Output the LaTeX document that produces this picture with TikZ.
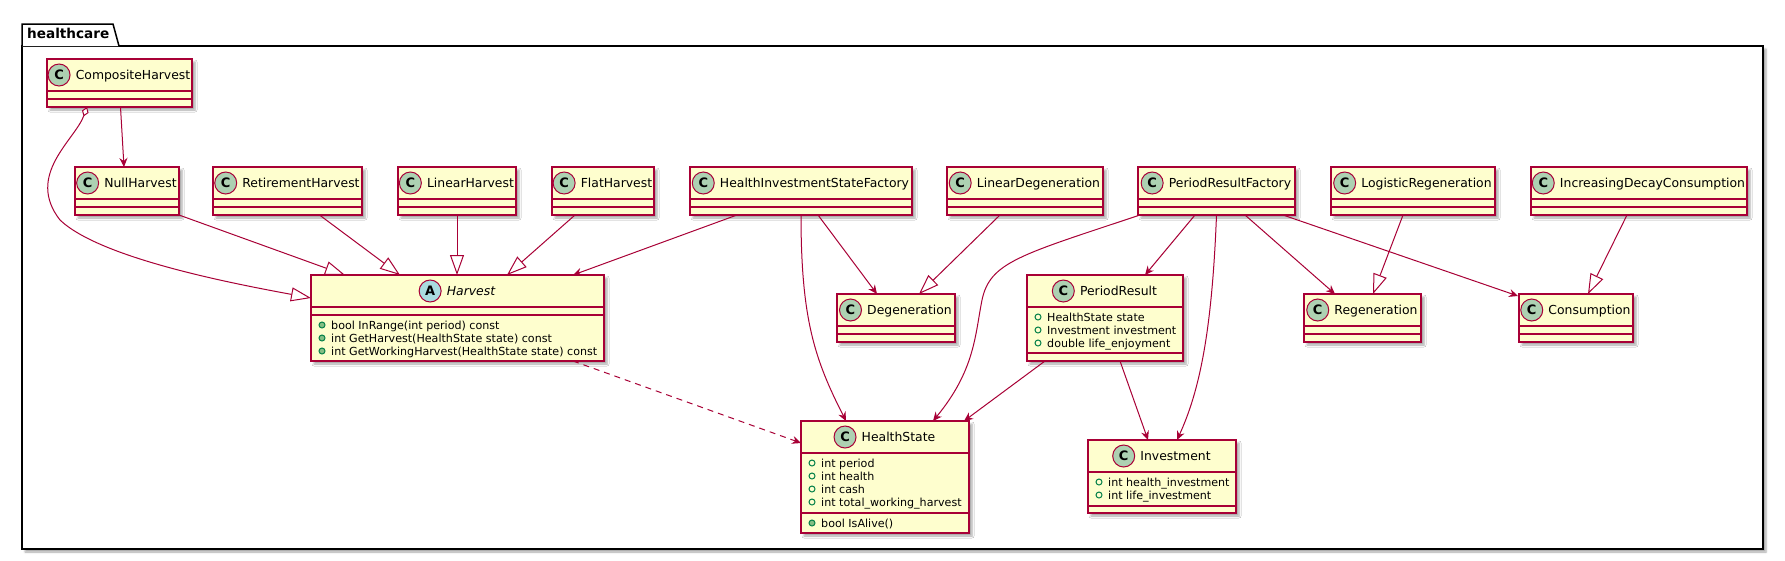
\documentclass[tikz,border=0pt]{standalone}
\usepackage{fontspec}
\setmainfont{DejaVu Sans}
\usetikzlibrary{arrows.meta,positioning,calc,shadows.blur}
\definecolor{UmlRed}{HTML}{A80036}
\definecolor{UmlFill}{HTML}{FEFECE}
\definecolor{IconC}{HTML}{ADD1B2}
\definecolor{IconA}{HTML}{A9DCDF}
\definecolor{FldGreen}{HTML}{038048}
\definecolor{MthGreen}{HTML}{84BE84}
\tikzset{
  pkgbox/.style={draw=black,line width=1.5pt,fill=white,anchor=north west,outer sep=0pt,
                 blur shadow={shadow xshift=3pt,shadow yshift=-3pt,shadow blur radius=2pt,shadow opacity=35}},
  clsbox/.style={draw=UmlRed,fill=UmlFill,line width=1.5pt,anchor=north west,
                 outer sep=0pt,inner sep=0pt,
                 blur shadow={shadow xshift=3pt,shadow yshift=-3pt,shadow blur radius=2pt,shadow opacity=35}},
  sep/.style={UmlRed,line width=1.5pt},
  clsname/.style={inner sep=0pt,text height=9pt,text depth=0pt,font=\fontsize{12.4}{14}\selectfont},
  icon/.style={circle,draw=UmlRed,line width=1pt,minimum size=22pt,inner sep=0pt,
               font=\fontsize{13}{13}\selectfont\bfseries},
  member/.style={anchor=west,inner sep=0pt,text height=8pt,text depth=0pt,
                 font=\fontsize{11.1}{13}\selectfont},
  fld/.style={circle,draw=FldGreen,line width=1pt,minimum size=6pt,inner sep=0pt},
  mth/.style={fld,fill=MthGreen},
  dep/.style={-{Stealth[length=9pt,width=8pt,inset=3pt]},UmlRed,line width=1pt},
  ext/.style={-{Triangle[fill=white,length=20pt,width=14pt]},UmlRed,line width=1pt},
  agg/.style={{Diamond[fill=white,length=10pt,width=7pt]}-{Triangle[fill=white,length=20pt,width=14pt]},
              UmlRed,line width=1pt},
  real/.style={dep,dash pattern=on 6pt off 5pt},
}

\begin{document}
\begin{tikzpicture}[x=1pt,y=-1pt]
  \useasboundingbox (0,0) rectangle (1785,560);
  % package frame
  \node[pkgbox,minimum width=1741,minimum height=503] (pkg) at (22,46) {};
  \draw[black,line width=1.5pt,fill=white] (pkg.north west) -- ++(0,-22) -- ++(91,0)
    -- ($(pkg.north west)+(97,0)$);
  \node[anchor=base west,inner sep=0pt,font=\fontsize{13.6}{15}\selectfont\bfseries] (pkgname)
    at (27,38) {healthcare};

  % classes without members
  \foreach \id/\x/\y/\w in {comp/47/59/145, nullh/75/167/104, retire/213/167/149,
      linh/398/167/118, flat/552/167/102, hisf/690/167/222, lindeg/947/167/156,
      prf/1138/167/157, logreg/1331/167/164, idc/1531/167/216,
      degen/837/294/118, regen/1304/294/117, cons/1519/294/114}{
    \node[clsbox,minimum width=\w,minimum height=48] (\id) at (\x,\y) {};
    \draw[sep] ($(\id.north west)+(0,40)$) -- ($(\id.north east)+(0,40)$);
  }

  % classes with members
  \node[clsbox,minimum width=293,minimum height=86] (harvest) at (311,275) {};
  \draw[sep] ($(harvest.north west)+(0,40)$) -- ($(harvest.north east)+(0,40)$);
  \foreach \t [count=\i] in {bool InRange(int period) const,
      int GetHarvest(HealthState state) const,
      int GetWorkingHarvest(HealthState state) const}{
    \node[mth] at ($(harvest.north west)+(11,{37+13*\i})$) {};
    \node[member] at ($(harvest.north west)+(20,{37+13*\i})$) {\t};
  }

  \node[clsbox,minimum width=156,minimum height=86] (presult) at (1027,275) {};
  \draw[sep] ($(presult.north west)+(0,78)$) -- ($(presult.north east)+(0,78)$);
  \foreach \t [count=\i] in {HealthState state, Investment investment, double life\_enjoyment}{
    \node[fld] at ($(presult.north west)+(11,{29+13*\i})$) {};
    \node[member] at ($(presult.north west)+(20,{29+13*\i})$) {\t};
  }

  \node[clsbox,minimum width=168,minimum height=112] (hstate) at (801,421) {};
  \draw[sep] ($(hstate.north west)+(0,92)$) -- ($(hstate.north east)+(0,92)$);
  \foreach \t [count=\i] in {int period, int health, int cash, int total\_working\_harvest}{
    \node[fld] at ($(hstate.north west)+(11,{29+13*\i})$) {};
    \node[member] at ($(hstate.north west)+(20,{29+13*\i})$) {\t};
  }
  \node[mth] at ($(hstate.north west)+(11,102)$) {};
  \node[member] at ($(hstate.north west)+(20,102)$) {bool IsAlive()};

  \node[clsbox,minimum width=148,minimum height=73] (invest) at (1088,440) {};
  \draw[sep] ($(invest.north west)+(0,66)$) -- ($(invest.north east)+(0,66)$);
  \foreach \t [count=\i] in {int health\_investment, int life\_investment}{
    \node[fld] at ($(invest.north west)+(11,{29+13*\i})$) {};
    \node[member] at ($(invest.north west)+(20,{29+13*\i})$) {\t};
  }

  % headers: icon + name
  \foreach \id/\txt/\ltr/\ic in {comp/CompositeHarvest/C/IconC, nullh/NullHarvest/C/IconC,
      retire/RetirementHarvest/C/IconC, linh/LinearHarvest/C/IconC, flat/FlatHarvest/C/IconC,
      hisf/HealthInvestmentStateFactory/C/IconC, lindeg/LinearDegeneration/C/IconC,
      prf/PeriodResultFactory/C/IconC, logreg/LogisticRegeneration/C/IconC,
      idc/IncreasingDecayConsumption/C/IconC, degen/Degeneration/C/IconC,
      regen/Regeneration/C/IconC, cons/Consumption/C/IconC, harvest/{\itshape Harvest}/A/IconA,
      presult/PeriodResult/C/IconC, hstate/HealthState/C/IconC, invest/Investment/C/IconC}{
    \node[clsname] (\id-nm) at ($(\id.north)+(13.5,16)$) {\txt};
    \node[icon,fill=\ic,left=5pt of \id-nm] (\id-ic) {\ltr};
    \draw[sep] ($(\id.north west)+(0,32)$) -- ($(\id.north east)+(0,32)$);
  }

  % relations
  \draw[dep] ($(comp.south)+(1,0)$) -- ($(nullh.north)+(-3,0)$);
  \draw[agg] ($(comp.south west)+(40,0)$) .. controls (75,140) and (25,175) .. (60,220)
    .. controls (100,258) and (230,283) .. ($(harvest.north west)+(0,23)$);
  \draw[ext] (nullh.south east) -- ($(harvest.north west)+(34,0)$);
  \draw[ext] ($(retire.south)+(32,0)$) -- ($(harvest.north west)+(89,0)$);
  \draw[ext] (linh.south) -- (linh.south |- harvest.north);
  \draw[ext] ($(flat.south)+(-28,0)$) -- ($(harvest.north west)+(196,0)$);
  \draw[dep] ($(hisf.south)+(-64,0)$) -- ($(harvest.north east)+(-31,0)$);
  \draw[dep] ($(hisf.south)+(17,0)$) -- ($(degen.north)+(-19,0)$);
  \draw[dep] (hisf.south) .. controls (801,320) and (815,360) .. ($(hstate.north west)+(45,0)$);
  \draw[ext] ($(lindeg.south)+(-25,0)$) -- ($(degen.north)+(23,0)$);
  \draw[dep] ($(prf.south west)+(2,0)$) .. controls (1020,255) and (990,262) .. (982,300)
    .. controls (975,335) and (975,370) .. ($(hstate.north east)+(-36,0)$);
  \draw[dep] ($(prf.south)+(-21.5,0)$) -- ($(presult.north)+(40,0)$);
  \draw[dep] (prf.south) .. controls (1212,330) and (1200,390) .. ($(invest.north)+(15,0)$);
  \draw[dep] ($(prf.south)+(28.5,0)$) -- ($(regen.north west)+(31,0)$);
  \draw[dep] ($(prf.south east)+(-12,0)$) -- ($(cons.north west)+(-1,2)$);
  \draw[ext] ($(logreg.south)+(-10,0)$) -- ($(regen.north west)+(69,0)$);
  \draw[ext] ($(idc.south)+(-12,0)$) -- ($(cons.north west)+(69,0)$);
  \draw[dep] ($(presult.south west)+(18,0)$) -- ($(hstate.north east)+(-5,0)$);
  \draw[dep] ($(presult.south)+(15,0)$) -- ($(invest.north)+(-14,0)$);
  \draw[real] ($(harvest.south east)+(-31,0)$) -- ($(hstate.north west)+(0,22)$);
\end{tikzpicture}
\end{document}
